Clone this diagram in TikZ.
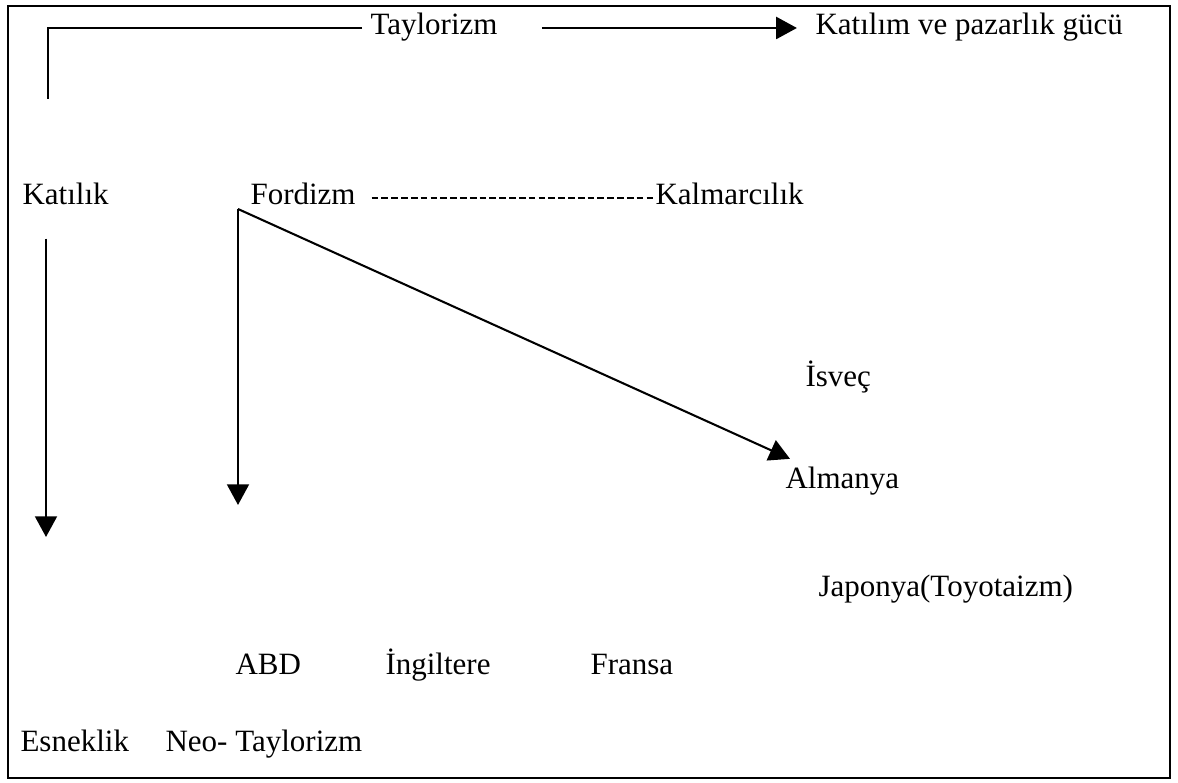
\documentclass[tikz,border=0pt]{standalone}
\usepackage{fontspec}
\setmainfont{Liberation Serif}
\usetikzlibrary{arrows.meta, calc}

\begin{document}
\begin{tikzpicture}[x=0.387pt, y=-0.387pt]
        \tikzstyle{term} = [anchor=west, inner sep=0pt, text height=0.7em, text depth=0.2em, font=\fontsize{12}{14}\selectfont];
        \tikzstyle{arrowline} = [line width=0.8pt, -{Triangle[width=8.5pt, length=8pt]}];
        \tikzstyle{plainline} = [line width=0.8pt];

        \useasboundingbox (0,0) rectangle (1178,783);
        \draw[line width=0.6pt] (8,6) rectangle (1170,778);

        % top row
        \node(taylor) [term] at (370, 28) {Taylorizm};
        \node(katilim) [term] at (815, 28) {Katılım ve pazarlık gücü};
        \coordinate (bracketend) at (48, 99);
        \draw[plainline] (taylor.west) ++(-8,0) -| (bracketend);
        \draw[arrowline, shorten <=17pt, shorten >=7pt] (taylor) -- (katilim);

        % left column
        \node(katilik) [term] at (22, 198) {Katılık};
        \node(esneklik) [term] at (20, 745) {Esneklik};
        \coordinate (katilikend) at (46, 537);
        \draw[arrowline, shorten <=11pt] (katilik.south -| katilikend) -- (katilikend);

        % fordizm
        \node(fordizm) [term] at (250, 198) {Fordizm};
        \node(kalmar) [term] at (655, 198) {Kalmarcılık};
        \draw[line width=0.7pt, dash pattern=on 2.6pt off 1.2pt, shorten <=6pt] (fordizm.east) -- (kalmar.west);
        \coordinate (fordfoot) at (238, 209);
        \coordinate (fordend) at (238, 505);
        \draw[arrowline] (fordfoot) -- (fordend);

        % countries
        \node(isvec) [term] at (805, 380) {İsveç};
        \node(almanya) [term] at (785, 482) {Almanya};
        \node(japonya) [term] at (818, 590) {Japonya(Toyotaizm)};
        \draw[arrowline] (fordfoot) -- ($(almanya.north west)+(5,-11)$);

        \node(abd) [term] at (235, 668) {ABD};
        \node(ingiltere) [term] at (385, 668) {İngiltere};
        \node(fransa) [term] at (590, 668) {Fransa};
        \node(neo) [term] at (165, 745) {Neo- Taylorizm};

    \end{tikzpicture}
\end{document}
